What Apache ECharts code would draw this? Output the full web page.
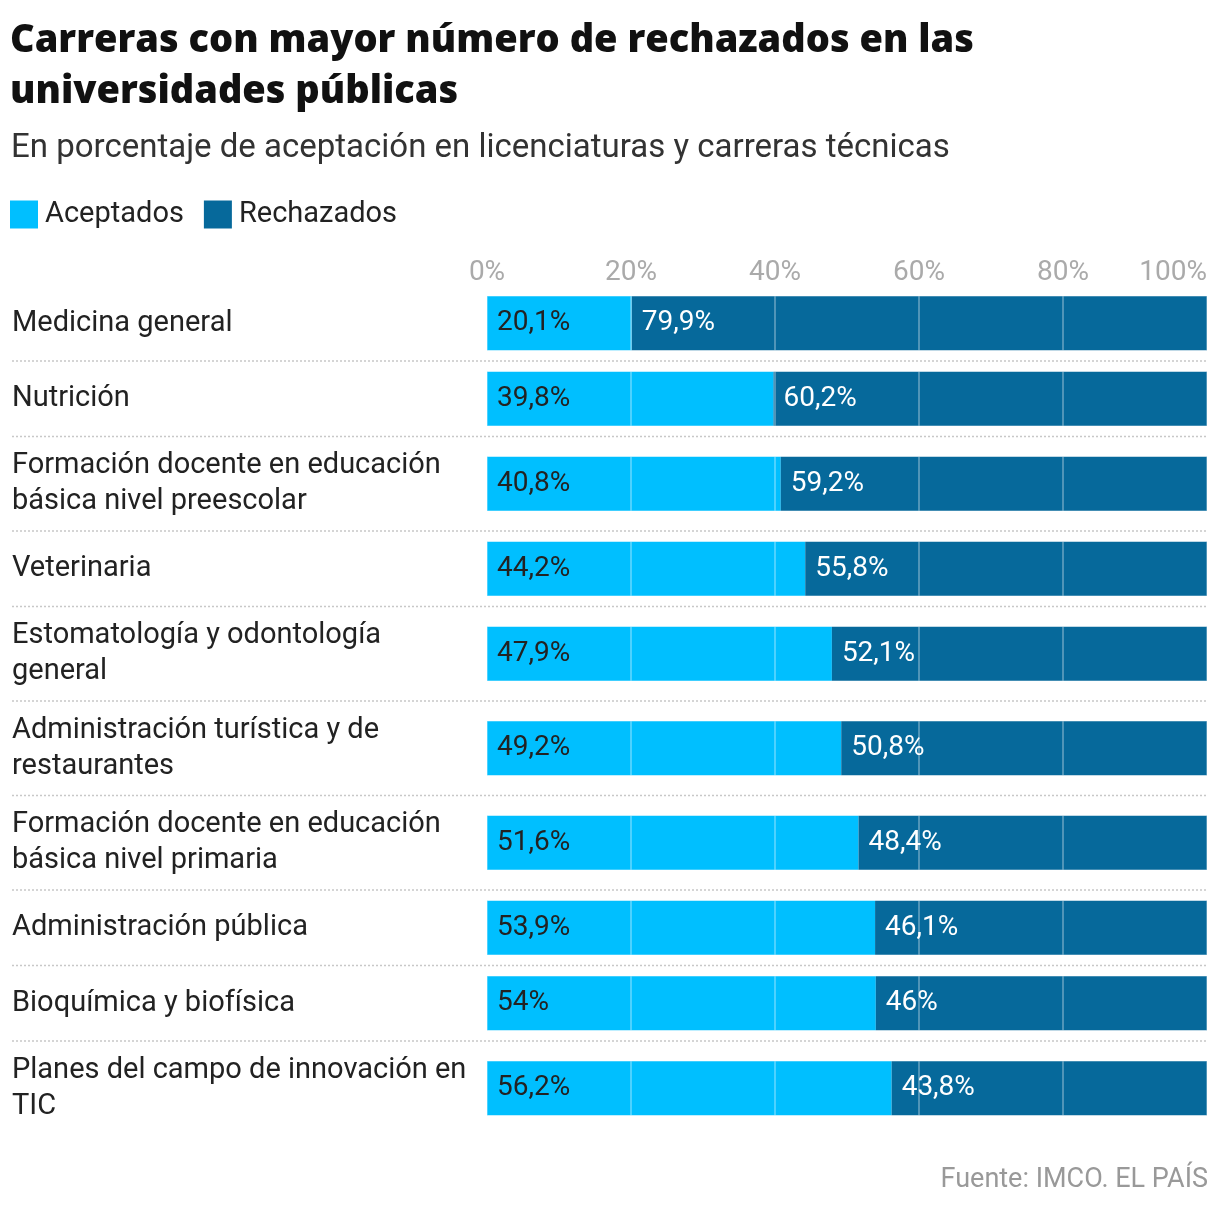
<!DOCTYPE html>
<html>
<head>
<meta charset="utf-8">
<style>
  html, body { margin: 0; padding: 0; background: #fff; }
  #chart { width: 1220px; height: 1208px; }
</style>
<script src="https://cdn.jsdelivr.net/npm/echarts@6/dist/echarts.min.js"></script>
</head>
<body>
<div id="chart"></div>
<script>
// carreras (saltos de línea como en el original)
const carreras = [
  'Medicina general',
  'Nutrición',
  'Formación docente en educación\nbásica nivel preescolar',
  'Veterinaria',
  'Estomatología y odontología\ngeneral',
  'Administración turística y de\nrestaurantes',
  'Formación docente en educación\nbásica nivel primaria',
  'Administración pública',
  'Bioquímica y biofísica',
  'Planes del campo de innovación en\nTIC'
];
const aceptados = [20.1, 39.8, 40.8, 44.2, 47.9, 49.2, 51.6, 53.9, 54, 56.2];
const rechazados = [79.9, 60.2, 59.2, 55.8, 52.1, 50.8, 48.4, 46.1, 46, 43.8];
const ticks = [0, 20, 40, 60, 80, 100];

const FONT = 'Roboto, "Liberation Sans", sans-serif';
const TITLE_FONT = '"Open Sans", Roboto, sans-serif';
const colAcep = '#00bfff';
const colRech = '#06699b';

// layout de filas (alto según número de líneas de la etiqueta)
const plotLeft = 487, plotRight = 13, barH = 54;
const rowTops = [];
const rowHs = [];
let y = 285.5;
carreras.forEach(c => {
  const h = c.split('\n').length > 1 ? 94.5 : 75.5;
  rowTops.push(y);
  rowHs.push(h);
  y += h;
});

const fmt = v => String(v).replace('.', ',') + '%';

const grids = [], xAxes = [], yAxes = [], series = [], separators = [];
carreras.forEach((c, i) => {
  grids.push({
    left: plotLeft, right: plotRight,
    top: rowTops[i] + (rowHs[i] - barH) / 2,
    height: barH
  });
  xAxes.push({
    gridIndex: i,
    type: 'value',
    min: 0, max: 100, interval: 20,
    position: 'top',
    z: 5,
    axisLine: { show: false },
    axisTick: { show: false },
    axisLabel: {
      show: i === 0,
      margin: 9,
      fontSize: 28,
      fontFamily: FONT,
      color: '#aaa',
      alignMaxLabel: 'right',
      formatter: v => ticks.includes(v) ? v + '%' : ''
    },
    splitLine: { show: true, lineStyle: { color: 'rgba(255,255,255,0.4)', width: 1.5 } }
  });
  yAxes.push({
    gridIndex: i,
    type: 'category',
    data: [c],
    axisLine: { show: false },
    axisTick: { show: false },
    axisLabel: {
      margin: plotLeft - 12,
      align: 'left',
      fontSize: 29,
      lineHeight: 36,
      fontFamily: FONT,
      color: '#222'
    }
  });
  series.push({
    name: 'Aceptados',
    type: 'bar',
    stack: 'total' + i,
    xAxisIndex: i, yAxisIndex: i,
    barWidth: barH,
    data: [aceptados[i]],
    itemStyle: { color: colAcep },
    label: {
      show: true, position: 'insideLeft', distance: 10,
      fontSize: 28, fontFamily: FONT, color: '#222',
      formatter: p => fmt(p.value)
    }
  });
  series.push({
    name: 'Rechazados',
    type: 'bar',
    stack: 'total' + i,
    xAxisIndex: i, yAxisIndex: i,
    barWidth: barH,
    data: [rechazados[i]],
    itemStyle: { color: colRech },
    label: {
      show: true, position: 'insideLeft', distance: 10,
      fontSize: 28, fontFamily: FONT, color: '#fff',
      formatter: p => fmt(p.value)
    }
  });
  if (i < carreras.length - 1) {
    const ly = rowTops[i] + rowHs[i];
    separators.push({
      type: 'line',
      shape: { x1: 12, y1: ly, x2: 1207, y2: ly },
      style: { stroke: '#c8c8c8', lineWidth: 1.5, lineDash: [2, 2] },
      silent: true
    });
  }
});

const option = {
  backgroundColor: '#fff',
  animation: false,
  title: [
    {
      text: 'Carreras con mayor número de rechazados en las\nuniversidades públicas',
      left: 10, top: 16, padding: 0,
      textStyle: { fontSize: 38, fontWeight: 800, lineHeight: 51, color: '#111', fontFamily: TITLE_FONT }
    },
    {
      text: 'En porcentaje de aceptación en licenciaturas y carreras técnicas',
      left: 11, top: 131, padding: 0,
      textStyle: { fontSize: 33, fontWeight: 'normal', lineHeight: 36, color: '#333', fontFamily: FONT }
    },
    {
      text: 'Fuente: IMCO. EL PAÍS',
      right: 12, top: 1167, padding: 0,
      textStyle: { fontSize: 27, fontWeight: 'normal', color: '#999', fontFamily: FONT }
    }
  ],
  legend: {
    data: ['Aceptados', 'Rechazados'],
    left: 10, top: 200, padding: 0,
    icon: 'rect',
    itemWidth: 28, itemHeight: 28, itemGap: 20,
    textStyle: { fontSize: 29, color: '#222', fontFamily: FONT, padding: [0, 0, 0, 2] }
  },
  grid: grids,
  xAxis: xAxes,
  yAxis: yAxes,
  series: series,
  graphic: separators
};

const myChart = echarts.init(document.getElementById('chart'));
myChart.setOption(option);
window.addEventListener('resize', () => {
  myChart.resize();
});
</script>
</body>
</html>
